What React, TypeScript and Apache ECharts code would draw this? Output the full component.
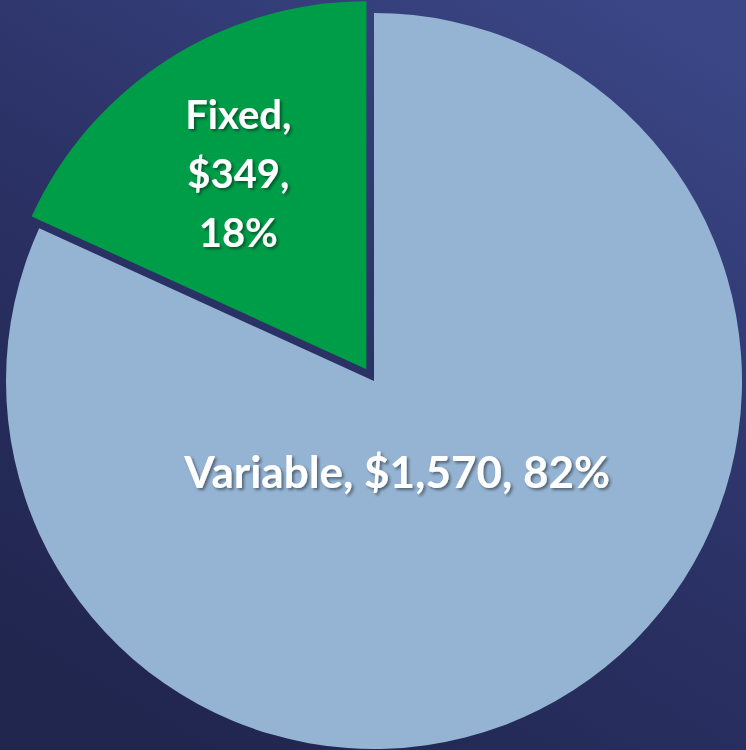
import React, { useEffect, useRef } from "react";
import * as echarts from "echarts";

const categories = ["Variable", "Fixed"];
const amounts = [1570, 349];
const percents = [82, 18];
const sliceColors = ["#95B4D3", "#009D48"];

const fmtMoney = (v: number) => "$" + v.toLocaleString("en-US");

export default function App() {
  const ref = useRef<HTMLDivElement>(null);
  useEffect(() => {
    document.body.style.margin = "0";
    if (!ref.current) return;
    const chart = echarts.init(ref.current, null, { renderer: "svg" });
    const data = categories.map((name, i) => ({
      name,
      value: amounts[i],
      selected: name === "Fixed",
      itemStyle: { color: sliceColors[i] },
      label:
        name === "Fixed"
          ? {
              formatter: `${name},\n${fmtMoney(amounts[i])},\n${percents[i]}%`,
              lineHeight: 59,
              fontSize: 40,
            }
          : {
              formatter: `${name}, ${fmtMoney(amounts[i])}, ${percents[i]}%`,
              fontSize: 44,
            },
    }));
    chart.setOption({
      animation: false,
      backgroundColor: new echarts.graphic.LinearGradient(0.85, 0, 0.25, 1, [
        { offset: 0, color: "#3a4686" },
        { offset: 0.5, color: "#2b3266" },
        { offset: 1, color: "#21264f" },
      ]),
      series: [
        {
          type: "pie",
          center: [374, 381],
          radius: [0, 368],
          startAngle: 90,
          clockwise: true,
          selectedMode: "single",
          selectedOffset: 14,
          data,
          label: {
            show: true,
            position: "inside",
            color: "#ffffff",
            fontFamily: "Lato",
            fontWeight: "bold",
            fontSize: 40,
            textShadowColor: "rgba(0,0,0,0.45)",
            textShadowBlur: 3,
            textShadowOffsetX: 2,
            textShadowOffsetY: 2,
          },
          labelLine: { show: false },
          emphasis: { disabled: true },
          select: { itemStyle: { color: sliceColors[1] } },
          labelLayout: (params: any) => {
            if (params.dataIndex === 0) return { dx: -78, dy: -67 };
            return { dx: -27, dy: -39 };
          },
        },
      ],
    });
    return () => chart.dispose();
  }, []);
  return <div ref={ref} style={{ width: 746, height: 750 }} />;
}
